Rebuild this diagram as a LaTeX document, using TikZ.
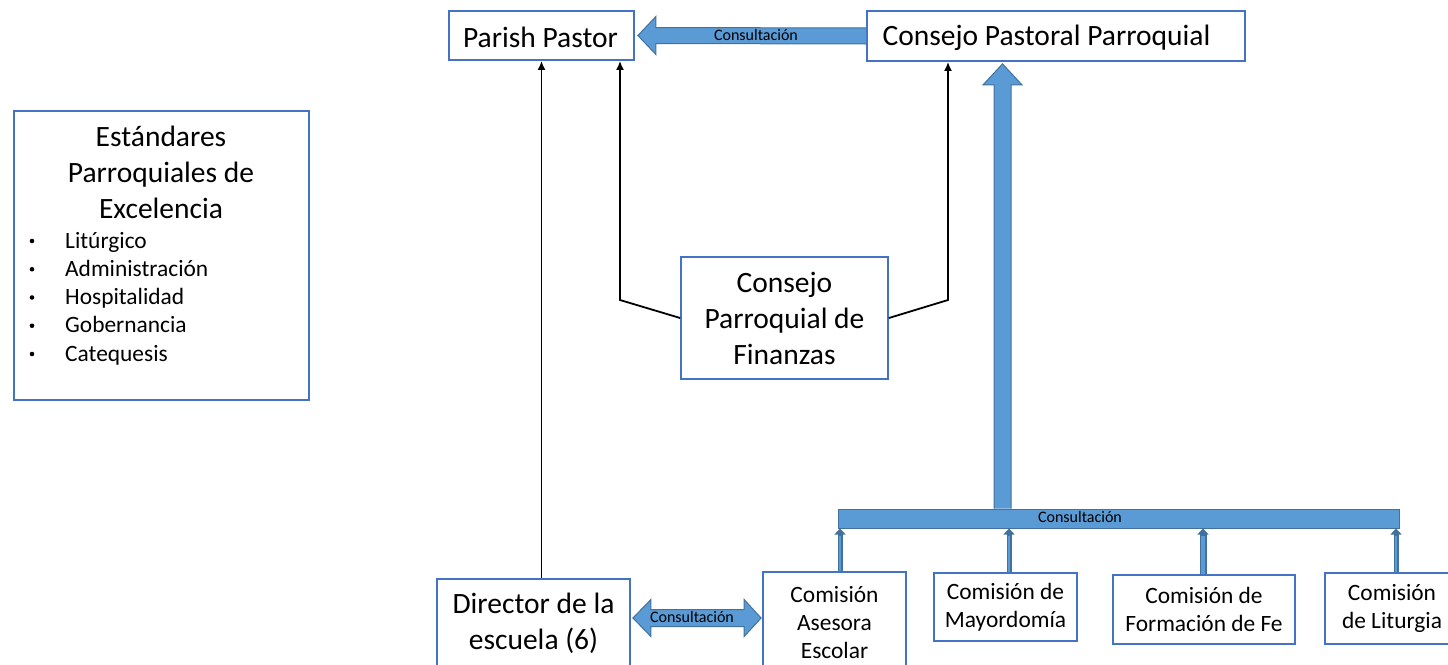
\documentclass[tikz,border=0pt]{standalone}
\usepackage{fontspec}
\setmainfont{Carlito}
\usetikzlibrary{arrows.meta,calc}
\definecolor{boxblue}{HTML}{4472C4}
\definecolor{arrfill}{HTML}{5B9BD5}
\definecolor{arredge}{HTML}{41719C}
\begin{document}
\begin{tikzpicture}[x=1pt,y=-1pt,
  box/.style={draw=boxblue,line width=1.8pt,fill=white,align=center,inner sep=0pt},
  big/.style={font=\fontsize{29.5}{36}\selectfont},
  mid/.style={font=\fontsize{23.4}{28}\selectfont},
  small/.style={font=\fontsize{16}{18}\selectfont},
  blk/.style={line width=1.8pt,-{Latex[length=9pt,width=8pt]}},
  blockarr/.style={fill=arrfill,draw=arredge,line width=1pt,line join=miter}]
\useasboundingbox (0,0) rectangle (1448,664);
\clip (0,0) rectangle (1448,664);

% boxes
\node[box,big,minimum width=185pt,minimum height=49pt] (pp) at (541.5,35.5) {};
\node[big,inner sep=0pt] (ppt) at (540.5,37) {Parish Pastor};
\node[box,big,minimum width=378pt,minimum height=50pt] (cpp) at (1056,36) {};
\node[big,inner sep=0pt] (cppt) at (1046.5,37.5) {Consejo Pastoral Parroquial};
\node[box,minimum width=295pt,minimum height=289pt] (std) at (161.5,255.5) {};
\node[big,align=center] (stdt) at (161,172) {Estándares\\Parroquiales de\\Excelencia};
\foreach \t [count=\i] in {Litúrgico,Administración,Hospitalidad,Gobernancia,Catequesis}{
  \fill (32,{241+28.25*(\i-1)}) circle (2.3pt);
  \node[mid,anchor=base west,inner sep=0pt] (bt\i) at (65,{248+28.25*(\i-1)}) {\t};
}
\node[box,big,minimum width=207pt,minimum height=122pt] (fin) at (784.5,318) {Consejo\\Parroquial de\\Finanzas};
\node[box,big,minimum width=193pt,minimum height=88pt] (dir) at (533.5,623) {Director de la\\escuela (6)};
\node[box,mid,minimum width=143pt,minimum height=102pt] (cas) at (834.5,623) {Comisión\\Asesora\\Escolar};
\node[box,mid,minimum width=143pt,minimum height=68pt] (cmay) at (1005.5,607) {Comisión de\\Mayordomía};
\node[box,mid,minimum width=182pt,minimum height=69pt] (cfor) at (1204,609.5) {Comisión de\\Formación de Fe};
\node[box,mid,minimum width=134pt,minimum height=71pt] (clit) at (1392,608.5) {Comisión\\de Liturgia};

% black arrows
\draw[blk] (pp.south |- dir.north) -- (pp.south);
\coordinate (fl) at (620,300);
\draw[blk] (fin.west) -- (fl) -- (fl |- pp.south);
\coordinate (fr) at (948,300);
\draw[blk] (fin.east) -- (fr) -- (fr |- cpp.south);

% top block arrow
\coordinate (ht) at ($(pp.east)+(3,0)$);
\coordinate (hs) at (cpp.west);
\draw[blockarr] ($(hs)+(0,-8)$) -- ($(ht)+(18,-8)$) -- ($(ht)+(18,-19)$) -- (ht) -- ($(ht)+(18,19)$) -- ($(ht)+(18,8)$) -- ($(hs)+(0,8)$);
\node[small] (l1) at (756,35) {Consultación};

% vertical big arrow
\coordinate (vt0) at (1002.5,0 |- cpp.south);
\coordinate (vt) at ($(vt0)+(0,2)$);
\node[draw=arredge,fill=arrfill,line width=1pt,minimum width=561pt,minimum height=19pt,inner sep=0pt] (bar) at (1118.5,518.5) {};
\coordinate (vb) at (1002.5,0 |- bar.north);
\draw[blockarr] ($(vb)+(-8.5,0)$) -- ($(vt)+(-8.5,21)$) -- ($(vt)+(-19.5,21)$) -- (vt) -- ($(vt)+(19.5,21)$) -- ($(vt)+(8.5,21)$) -- ($(vb)+(8.5,0)$);
\node[small] (l2) at (1080,517) {Consultación};

% small arrows
\foreach \n/\x/\w in {cas/840/5,cmay/1009/5,cfor/1203/7,clit/1396/5}{
  \draw[draw=arredge,line width=\w pt,-{Triangle[length=6pt,width=11pt]}] (\x,0 |- \n.north) -- (\x,0 |- bar.south);
  \draw[draw=arrfill,line width=\w pt-2.2pt] (\x,0 |- \n.north) -- ($(\x,0 |- bar.south)+(0,7)$);
}

% double arrow
\coordinate (dl) at ($(dir.east |- 0,618)+(2,0)$);
\coordinate (dr) at ($(cas.west |- 0,618)+(-1,0)$);
\draw[blockarr] (dl) -- ($(dl)+(18,-18.5)$) -- ($(dl)+(18,-8.5)$) -- ($(dr)+(-17,-8.5)$) -- ($(dr)+(-17,-18.5)$) -- (dr) -- ($(dr)+(-17,18.5)$) -- ($(dr)+(-17,8.5)$) -- ($(dl)+(18,8.5)$) -- ($(dl)+(18,18.5)$) -- cycle;
\node[small] (l3) at (692,617) {Consultación};
\end{tikzpicture}
\end{document}
